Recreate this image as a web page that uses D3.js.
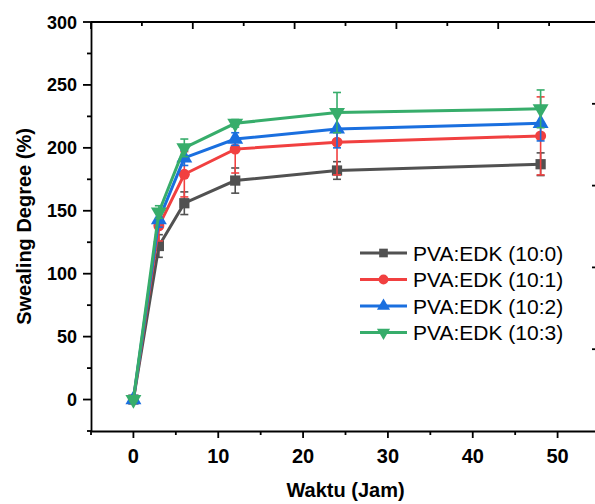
<!DOCTYPE html>
<html><head><meta charset="utf-8">
<script src="https://cdn.jsdelivr.net/npm/d3@7/dist/d3.min.js"></script>
<style>html,body{margin:0;padding:0;background:#fff;}svg{display:block;}</style>
</head><body>
<svg id="c" width="595" height="504"></svg>
<script>
const times = [0, 3, 6, 12, 24, 48];
const seriesNames = ["PVA:EDK (10:0)", "PVA:EDK (10:1)", "PVA:EDK (10:2)", "PVA:EDK (10:3)"];
const s100 = [0, 122, 156, 174, 182, 187];
const s101 = [0, 138, 179, 199, 204.5, 209.5];
const s102 = [0, 143, 192, 207, 215, 219.5];
const s103 = [0, 149, 200, 219.5, 228, 231];
const e100 = [1.5, 9, 9, 10, 7, 9];
const e101 = [1.5, 12, 18, 19, 26, 31];
const e102 = [1.5, 6, 6, 5, 15, 14];
const e103 = [1.5, 5, 7, 3, 16, 15];
const xTicks = [0, 10, 20, 30, 40, 50];
const yTicks = [0, 50, 100, 150, 200, 250, 300];
const colors = ["#515151", "#F14040", "#1A6FDF", "#37AD6B"];
const symbols = [d3.symbolSquare, d3.symbolCircle, d3.symbolTriangle, "down"];

const svg = d3.select("#c");
const L = 91, R = 600, T = 22, B = 431;
const x = d3.scaleLinear().domain([-5, 55]).range([L, R]);
const y = d3.scaleLinear().domain([-25, 300]).range([B, T]);
const xTop = d3.scaleLinear().domain([0, 10]).range([L, R]);
const yRight = d3.scaleLinear().domain([0, 5]).range([B, T]);

const font = "'Liberation Sans', Arial, sans-serif";

// bottom axis
const gx = svg.append("g").attr("transform", `translate(0,${B})`);
gx.call(d3.axisBottom(x).tickValues(d3.range(-5, 56, 5)).tickSize(0).tickFormat(""));
gx.select(".domain").attr("stroke", "#000").attr("stroke-width", 1.8);
gx.selectAll(".tick line").remove();
d3.range(-5, 56, 5).forEach(v => {
  const major = v % 10 === 0;
  gx.append("line").attr("x1", x(v)).attr("x2", x(v)).attr("y1", 0).attr("y2", major ? 7 : 4)
    .attr("stroke", "#000").attr("stroke-width", 1.8);
});
xTicks.forEach(v => {
  gx.append("text").attr("x", x(v)).attr("y", 32).attr("text-anchor", "middle").attr("fill", "#000")
    .attr("font-family", font).attr("font-weight", "bold").attr("font-size", 20).text(v);
});

// left axis
const gy = svg.append("g").attr("transform", `translate(${L},0)`);
gy.call(d3.axisLeft(y).tickValues([]).tickSize(0));
gy.select(".domain").attr("stroke", "#000").attr("stroke-width", 1.8);
d3.range(-25, 301, 25).forEach(v => {
  const major = v % 50 === 0;
  gy.append("line").attr("x1", major ? -8 : -4).attr("x2", 0).attr("y1", y(v)).attr("y2", y(v))
    .attr("stroke", "#000").attr("stroke-width", 1.8);
});
yTicks.forEach(v => {
  gy.append("text").attr("x", -14).attr("y", y(v) + 6.5).attr("text-anchor", "end").attr("fill", "#000")
    .attr("font-family", font).attr("font-weight", "bold").attr("font-size", 18).text(v);
});

// top axis
const gt = svg.append("g");
gt.append("line").attr("x1", L).attr("x2", R).attr("y1", T).attr("y2", T).attr("stroke", "#000").attr("stroke-width", 1.8);
d3.range(0, 11).forEach(v => {
  const major = v % 2 === 0;
  gt.append("line").attr("x1", xTop(v)).attr("x2", xTop(v)).attr("y1", T).attr("y2", T + (major ? 7 : 4))
    .attr("stroke", "#000").attr("stroke-width", 1.8);
});
// right axis ticks
const gr = svg.append("g");
gr.append("line").attr("x1", R).attr("x2", R).attr("y1", T).attr("y2", B).attr("stroke", "#000").attr("stroke-width", 1.8);
d3.range(1, 5).forEach(v => {
  gr.append("line").attr("x1", R - 8).attr("x2", R).attr("y1", yRight(v)).attr("y2", yRight(v))
    .attr("stroke", "#000").attr("stroke-width", 1.8);
});

// titles
svg.append("text").attr("x", (L + R) / 2).attr("y", 497).attr("text-anchor", "middle").attr("fill", "#000")
  .attr("font-family", font).attr("font-weight", "bold").attr("font-size", 20).text("Waktu (Jam)");
svg.append("text").attr("transform", `translate(31,${(T + B) / 2}) rotate(-90)`).attr("text-anchor", "middle").attr("fill", "#000")
  .attr("font-family", font).attr("font-weight", "bold").attr("font-size", 20).text("Swealing Degree (%)");

function symPath(i, size) {
  if (symbols[i] === "down") {
    return d3.symbol().type(d3.symbolTriangle).size(size)();
  }
  return d3.symbol().type(symbols[i]).size(size)();
}

const allVals = [s100, s101, s102, s103];
const allErr = [e100, e101, e102, e103];
const line = d3.line().x(d => x(d[0])).y(d => y(d[1]));
const sizes = [105, 95, 110, 110];

allVals.forEach((vals, i) => {
  const g = svg.append("g");
  const pts = times.map((t, k) => [t, vals[k], allErr[i][k]]);
  g.append("path").attr("d", line(pts)).attr("fill", "none").attr("stroke", colors[i]).attr("stroke-width", 3);
  pts.forEach(p => {
    const xc = x(p[0]);
    g.append("line").attr("x1", xc).attr("x2", xc).attr("y1", y(p[1] - p[2])).attr("y2", y(p[1] + p[2]))
      .attr("stroke", colors[i]).attr("stroke-width", 1.6);
    [p[1] - p[2], p[1] + p[2]].forEach(v => {
      g.append("line").attr("x1", xc - 4).attr("x2", xc + 4).attr("y1", y(v)).attr("y2", y(v))
        .attr("stroke", colors[i]).attr("stroke-width", 1.6);
    });
    g.append("path").attr("d", symPath(i, sizes[i]))
      .attr("transform", `translate(${xc},${y(p[1])})` + (symbols[i] === "down" ? " rotate(180)" : ""))
      .attr("fill", colors[i]);
  });
});

// legend
const lg = svg.append("g");
seriesNames.forEach((name, i) => {
  const cy = 253 + i * 26.5;
  lg.append("line").attr("x1", 360).attr("x2", 407).attr("y1", cy).attr("y2", cy).attr("stroke", colors[i]).attr("stroke-width", 3);
  lg.append("path").attr("d", symPath(i, 75)).attr("fill", colors[i])
    .attr("transform", `translate(383.5,${cy})` + (symbols[i] === "down" ? " rotate(180)" : ""));
  lg.append("text").attr("x", 413).attr("y", cy + 7.5).attr("font-family", font).attr("font-size", 21).attr("fill", "#000").text(name);
});
</script>
</body></html>
